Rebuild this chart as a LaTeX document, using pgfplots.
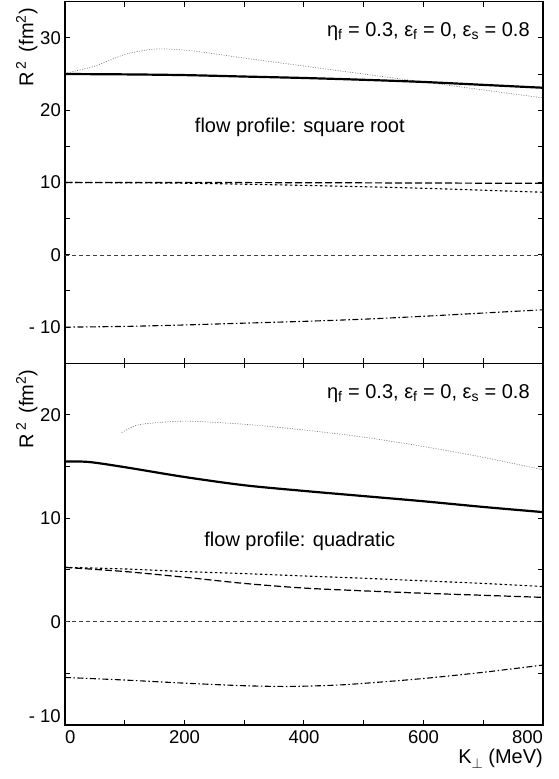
\documentclass[border=0pt]{standalone}
\usepackage{pgfplots}
\pgfplotsset{compat=1.18}
\usepackage{fontspec}
\setmainfont{Liberation Sans}
\newcommand{\tfont}{\fontsize{18.5}{21}\selectfont}
\newcommand{\afont}{\fontsize{20}{23}\selectfont}
\newcommand{\etatext}{η\textsubscript{f} = 0.3,\ ε\textsubscript{f} = 0,\ ε\textsubscript{s} = 0.8}
\newcommand{\rlabel}{R\hspace{3pt}\textsuperscript{2}\hspace{9pt}(fm\textsuperscript{2})}
\begin{document}
\begin{tikzpicture}
\useasboundingbox (0,0) rectangle (559pt,779pt);
\pgfplotsset{
  every axis/.append style={
    width=478pt, scale only axis, xmin=0, xmax=800,
    clip mode=individual,
    axis line style={line width=1.2pt},
    every tick/.style={black, line width=1pt},
    major tick length=5pt, minor tick length=5pt,
    tick align=inside,
    xtick={0,200,...,800}, minor xtick={100,300,500,700},
    ticklabel style={font=\tfont},
    /pgf/number format/assume math mode=true,
    yticklabel style={inner sep=0pt, xshift=-4pt},
    xticklabel style={inner sep=0pt, yshift=-5pt},
  },
  sol/.style={black, line width=2.2pt, smooth},
  gry/.style={black!55, line width=0.6pt, dash pattern=on 1pt off 1.5pt, smooth},
  dsh/.style={black, line width=1.2pt, dash pattern=on 7pt off 3pt, smooth},
  dot/.style={black, line width=1.1pt, dash pattern=on 2.5pt off 2.5pt, smooth},
  dd/.style={black, line width=1.1pt, dash pattern=on 6pt off 2.5pt on 1.5pt off 2.5pt, smooth},
  zer/.style={black!75, line width=0.6pt, dash pattern=on 4pt off 3pt},
}
% ---------------- top panel ----------------
\begin{axis}[at={(65pt,415.7pt)}, anchor=south west, height=361.6pt,
  ymin=-15, ymax=35,
  ytick={-10,0,10,20,30}, minor ytick={-15,-5,5,15,25,35},
  yticklabels={- 10,0,10,20,30},
  xticklabels={},
]
\addplot[gry] coordinates {(0,25.1)(50,26.1)(100,27.7)(150,28.45)(200,28.3)(250,27.8)(300,27.2)(400,26.1)(500,25.0)(600,23.9)(700,22.8)(800,21.7)};
\addplot[sol] coordinates {(0,25.0)(100,24.95)(200,24.85)(300,24.65)(400,24.45)(500,24.2)(600,23.9)(700,23.5)(800,23.1)};
\addplot[dsh] coordinates {(0,10)(200,10)(400,9.97)(600,9.93)(800,9.88)};
\addplot[dot] coordinates {(0,10)(200,9.9)(400,9.6)(600,9.2)(800,8.65)};
\addplot[zer] coordinates {(0,0)(800,0)};
\addplot[dd] coordinates {(0,-10)(100,-9.9)(200,-9.7)(300,-9.45)(400,-9.2)(500,-8.9)(600,-8.5)(700,-8.05)(800,-7.6)};
\node[anchor=base east, font=\afont, inner sep=0pt] at (axis cs:778,30.25) {\etatext};
\node[anchor=base, font=\afont, inner sep=0pt] at (axis cs:393,16.9) {flow profile: square root};
\node[font=\afont, inner sep=0pt, xshift=-31.7pt, yshift=-6.3pt, rotate=90, anchor=base east] at (rel axis cs:0,1) {\rlabel};
\end{axis}
% ---------------- bottom panel ----------------
\begin{axis}[at={(65pt,54pt)}, anchor=south west, height=361.7pt,
  ymin=-10, ymax=25,
  ytick={0,10,20}, minor ytick={-5,5,15,25},
  yticklabels={0,10,20},
  extra y ticks={-10}, extra y tick labels={- 10},
  extra y tick style={yticklabel style={yshift=9pt}},
  xticklabels={\makebox[0pt][l]{0},200,400,600,\makebox[0pt][r]{800}},
]
\addplot[gry] coordinates {(95,18.3)(120,19.0)(153,19.25)(207,19.4)(300,19.1)(400,18.55)(500,17.85)(600,16.95)(700,15.9)(800,14.7)};
\addplot[sol] coordinates {(0,15.5)(40,15.45)(100,14.95)(200,14.0)(300,13.2)(400,12.65)(500,12.15)(600,11.65)(700,11.1)(800,10.6)};
\addplot[dot] coordinates {(0,5.25)(100,5.1)(200,4.85)(300,4.65)(400,4.42)(500,4.2)(600,3.95)(700,3.7)(800,3.4)};
\addplot[dsh] coordinates {(0,5.25)(100,4.85)(200,4.3)(300,3.7)(400,3.25)(500,2.98)(600,2.75)(700,2.55)(800,2.35)};
\addplot[zer] coordinates {(0,0)(800,0)};
\addplot[dd] coordinates {(0,-5.4)(100,-5.65)(200,-5.95)(300,-6.2)(375,-6.27)(450,-6.15)(500,-5.97)(600,-5.5)(700,-4.9)(800,-4.2)};
\node[anchor=base east, font=\afont, inner sep=0pt] at (axis cs:778,21.6) {\etatext};
\node[anchor=base, font=\afont, inner sep=0pt] at (axis cs:393,7.26) {flow profile: quadratic};
\node[font=\afont, inner sep=0pt, xshift=-31.7pt, yshift=-6.3pt, rotate=90, anchor=base east] at (rel axis cs:0,1) {\rlabel};
\node[font=\afont, inner sep=0pt, anchor=base east, yshift=-39pt] at (rel axis cs:1,0) {K\raisebox{-5pt}{\fontsize{15}{15}\selectfont$\perp$}\ (MeV)};
\end{axis}
\end{tikzpicture}
\end{document}
